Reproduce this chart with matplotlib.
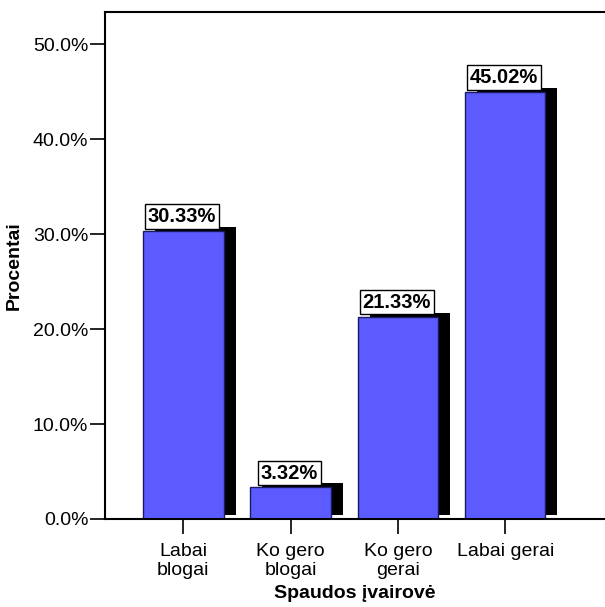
import matplotlib
matplotlib.use("Agg")
import matplotlib.pyplot as plt
import matplotlib.transforms as mtransforms
from matplotlib.ticker import FuncFormatter

categories = ["Labai\nblogai", "Ko gero\nblogai", "Ko gero\ngerai", "Labai gerai"]
percents = [30.33, 3.32, 21.33, 45.02]
yticks = [0, 10, 20, 30, 40, 50]

plt.rcParams['font.family'] = ['Liberation Sans', 'DejaVu Sans']

fig = plt.figure(figsize=(6.05, 6.07), dpi=100)
ax = fig.add_axes([0.1736, 0.145, 0.8264, 0.835])

x = list(range(len(categories)))
width = 0.75

# drop shadow: same bars shifted right and up
shadow = ax.transData + mtransforms.ScaledTranslation(0.12, 0.04, fig.dpi_scale_trans)
ax.bar(x, percents, width=width, color='black', transform=shadow, zorder=1)
ax.bar(x, percents, width=width, color='#5b5bff', edgecolor='#1a1a60',
       linewidth=1.0, zorder=2)

for xi, p in zip(x, percents):
    ax.annotate(f"{p:.2f}%", (xi, p), xytext=(-1, 3.5), textcoords='offset points',
                ha='center', va='bottom', fontsize=14.5, fontweight='bold', zorder=5,
                bbox=dict(boxstyle='square,pad=0.14', facecolor='white',
                          edgecolor='black', linewidth=1.0))

ax.set_xlim(-0.73, 3.93)
ax.set_ylim(0, 53.4)
ax.set_xticks(x)
ax.set_xticklabels(categories, fontsize=14, linespacing=1.15)
ax.set_yticks(yticks)
ax.yaxis.set_major_formatter(FuncFormatter(lambda v, pos: f"{v:.1f}%"))
ax.tick_params(axis='y', labelsize=14, length=11, width=1.2, pad=1)
ax.tick_params(axis='x', length=11, width=1.2, pad=6)

ax.spines['right'].set_visible(False)
for s in ['left', 'top', 'bottom']:
    ax.spines[s].set_linewidth(1.5)

ax.set_ylabel("Procentai", fontsize=14, fontweight='bold', labelpad=7)
ax.set_xlabel("Spaudos įvairovė", fontsize=14, fontweight='bold', labelpad=5)

fig.savefig("out.png", dpi=100)
